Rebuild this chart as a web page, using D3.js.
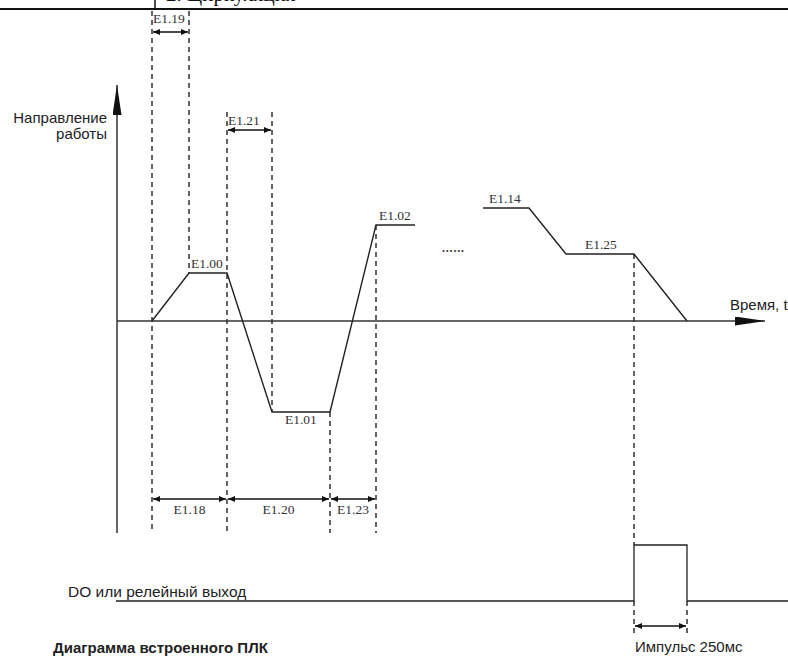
<!DOCTYPE html>
<html>
<head>
<meta charset="utf-8">
<script src="https://cdn.jsdelivr.net/npm/d3@7"></script>
<style>
  body { margin: 0; background: #fff; }
  svg { display: block; }
  .serif { font-family: "Liberation Serif", "Times New Roman", serif; fill: #333; }
  .sans { font-family: "Liberation Sans", Arial, sans-serif; fill: #222; }
</style>
</head>
<body>
<div id="chart"></div>
<script>
// time in arbitrary units, speed in % (sign = direction)
const profileA = [[35, 0], [72, 48], [110, 48], [155, -91], [213, -91], [259, 96], [298, 96]];
const profileB = [[366, 113], [412, 113], [449, 67], [517, 67], [570, 0]];
const stepLabels = [
  { name: "E1.00", t: 72, v: 48 },
  { name: "E1.02", t: 260, v: 96 },
  { name: "E1.14", t: 370, v: 113 },
  { name: "E1.25", t: 466, v: 67 }
];
const doSignal = [[-1, 0], [517, 0], [517, 1], [570, 1], [570, 0], [671, 0]];
// dimension spans: [from, to, label]
const topDims = [[35, 72, "E1.19"]];
const midDims = [[110, 155, "E1.21"]];
const bottomDims = [[35, 110, "E1.18"], [110, 213, "E1.20"], [213, 259, "E1.23"]];
const pulseDims = [[517, 570, "Импульс 250мс"]];

const width = 788;
const height = 657;

const x = d3.scaleLinear().domain([0, 671]).range([117, 788]);
const y = d3.scaleLinear().domain([-100, 100]).range([421, 221]);
const yDo = d3.scaleLinear().domain([0, 1]).range([601, 545]);

const svg = d3.select("#chart").append("svg")
  .attr("width", width)
  .attr("height", height);

const defs = svg.append("defs");
function marker(id, path, w, h, refX) {
  defs.append("marker")
    .attr("id", id)
    .attr("viewBox", `0 0 ${w} ${h}`)
    .attr("refX", refX).attr("refY", h / 2)
    .attr("markerWidth", w).attr("markerHeight", h)
    .attr("markerUnits", "userSpaceOnUse")
    .attr("orient", "auto-start-reverse")
    .append("path").attr("d", path).attr("fill", "#111");
}
marker("dimArrow", "M0,0L7,3L0,6Z", 7, 6, 7);
marker("axArrow", "M0,0L30,4.5L0,9Z", 30, 9, 30);

// header (cut at the top, like the source page)
svg.append("line").attr("x1", 0).attr("x2", width).attr("y1", 9).attr("y2", 9)
  .attr("stroke", "#111").attr("stroke-width", 2);
svg.append("line").attr("x1", 155).attr("x2", 155).attr("y1", 0).attr("y2", 9)
  .attr("stroke", "#111").attr("stroke-width", 1.5);
svg.append("text").attr("class", "serif").attr("x", 166).attr("y", 1)
  .style("font-size", "21px").style("fill", "#111").text("2. Циркуляция");

// dashed guides
const dash = (t, y1, y2) => svg.append("line")
  .attr("x1", x(t)).attr("x2", x(t)).attr("y1", y1).attr("y2", y2)
  .attr("stroke", "#222").attr("stroke-width", 1.4).attr("stroke-dasharray", "5,4");

dash(35, 11, 533);
dash(72, 11, y(48));
dash(110, 112, 533);
dash(155, 112, y(-91));
dash(213, y(-91), 533);
dash(259, y(96), 533);
dash(517, y(67), yDo(1));
dash(517, yDo(0), 636);
dash(570, yDo(0), 636);

// axes
svg.append("line").attr("x1", x(0)).attr("x2", x(0)).attr("y1", 533).attr("y2", 85)
  .attr("stroke", "#333").attr("stroke-width", 1.5).attr("marker-end", "url(#axArrow)");
svg.append("line").attr("x1", x(0)).attr("x2", 765).attr("y1", y(0)).attr("y2", y(0))
  .attr("stroke", "#333").attr("stroke-width", 1.3).attr("marker-end", "url(#axArrow)");

svg.append("text").attr("class", "sans").attr("x", 107).attr("y", 123)
  .attr("text-anchor", "end").style("font-size", "15px").text("Направление");
svg.append("text").attr("class", "sans").attr("x", 107).attr("y", 139)
  .attr("text-anchor", "end").style("font-size", "15px").text("работы");
svg.append("text").attr("class", "sans").attr("x", 730).attr("y", 310)
  .style("font-size", "15px").text("Время, t");

// speed profile
const line = d3.line().x(d => x(d[0])).y(d => y(d[1]));
[profileA, profileB].forEach(p => {
  svg.append("path").attr("d", line(p))
    .attr("fill", "none").attr("stroke", "#222").attr("stroke-width", 1.4);
});

stepLabels.forEach(d => {
  svg.append("text").attr("class", "serif")
    .attr("x", x(d.t) + 2).attr("y", y(d.v) - 5)
    .style("font-size", "13.5px").text(d.name);
});
svg.append("text").attr("class", "serif")
  .attr("x", x(168)).attr("y", y(-91) + 12)
  .style("font-size", "13.5px").text("E1.01");
svg.append("text").attr("class", "serif")
  .attr("x", x(325)).attr("y", y(69))
  .style("font-size", "12px").style("font-weight", "bold").style("letter-spacing", "0.8px")
  .text("......");

// dimension arrows
function dims(data, yy, labelDy, cls, size, anchor) {
  data.forEach(([a, b, label]) => {
    svg.append("line")
      .attr("x1", x(a) + 1).attr("x2", x(b) - 1).attr("y1", yy).attr("y2", yy)
      .attr("stroke", "#111").attr("stroke-width", 1.5)
      .attr("marker-start", "url(#dimArrow)").attr("marker-end", "url(#dimArrow)");
    svg.append("text").attr("class", cls)
      .attr("x", anchor === "start" ? x(a) + 1 : (x(a) + x(b)) / 2)
      .attr("y", yy + labelDy)
      .attr("text-anchor", anchor)
      .style("font-size", size)
      .text(label);
  });
}
dims(topDims, 32, -9, "serif", "13.5px", "start");
dims(midDims, 130, -5, "serif", "13.5px", "start");
dims(bottomDims, 499, 15, "serif", "13.5px", "middle");
dims(pulseDims, 626, 26, "sans", "15px", "start");

// DO output
svg.append("path")
  .attr("d", d3.line().x(d => x(d[0])).y(d => yDo(d[1]))(doSignal))
  .attr("fill", "none").attr("stroke", "#222").attr("stroke-width", 1.3);
svg.append("text").attr("class", "sans").attr("x", 68).attr("y", 597)
  .style("font-size", "15.5px").text("DO или релейный выход");

svg.append("text").attr("class", "sans").attr("x", 53).attr("y", 653)
  .style("font-size", "15px").style("font-weight", "bold").text("Диаграмма встроенного ПЛК");
</script>
</body>
</html>
